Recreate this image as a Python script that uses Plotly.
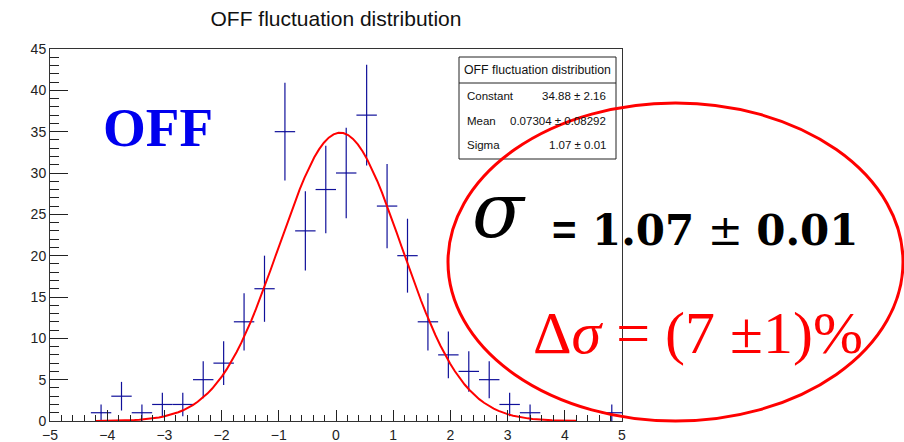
import numpy as np
import plotly.graph_objects as go

# Histogram: 28 bins over [-5, 5]
x_min, x_max, n_bins = -5.0, 5.0, 28
counts = [0, 0, 1, 3, 1, 2, 2, 5, 7, 12, 16, 35, 23, 28,
          30, 37, 26, 20, 12, 8, 6, 5, 2, 1, 0, 0, 0, 1]

# Gaussian fit parameters
fit_constant = 34.88
fit_mean = 0.07304
fit_sigma = 1.07
fit_range = [-4.2, 4.2]

stat_names = ["Constant", "Mean", "Sigma"]
stat_values = ["34.88 \u00b1 2.16", "0.07304 \u00b1 0.08292", "1.07 \u00b1 0.01"]

W, H = 904, 442
L, R, T, B = 50, 622, 49, 421


def px(xp):
    return (xp - L) / (R - L)


def py(yp):
    return (B - yp) / (B - T)


bin_w = (x_max - x_min) / n_bins
centers = x_min + bin_w * (np.arange(n_bins) + 0.5)
counts_arr = np.array(counts, dtype=float)
mask = counts_arr > 0

fig = go.Figure()

fig.add_trace(go.Scatter(
    x=centers[mask], y=counts_arr[mask], mode="markers",
    marker=dict(size=1, color="#10109a"),
    error_x=dict(type="constant", value=bin_w / 2, thickness=1.2, width=0, color="#10109a"),
    error_y=dict(type="data", array=np.sqrt(counts_arr[mask]), thickness=1.2, width=0, color="#10109a"),
    showlegend=False, hoverinfo="skip",
))

xf = np.linspace(fit_range[0], fit_range[1], 100)
yf = fit_constant * np.exp(-0.5 * ((xf - fit_mean) / fit_sigma) ** 2)
fig.add_trace(go.Scatter(
    x=xf, y=yf, mode="lines", line=dict(color="#ff0000", width=2),
    showlegend=False, hoverinfo="skip",
))

axis_font = dict(family="Liberation Sans, Arial, sans-serif", size=14, color="#222")

fig.update_xaxes(
    range=[x_min, x_max], dtick=1, tick0=0, showgrid=False, zeroline=False,
    showline=True, mirror=True, linecolor="#333", linewidth=1,
    ticks="inside", ticklen=11, tickwidth=1, tickcolor="#222",
    minor=dict(ticks="inside", ticklen=6, dtick=0.2, tickcolor="#222", tickwidth=1),
    tickfont=axis_font, automargin=False, ticklabelstandoff=1,
)
fig.update_yaxes(
    range=[0, 45], dtick=5, tick0=0, showgrid=False, zeroline=False,
    showline=True, mirror=True, linecolor="#333", linewidth=1,
    ticks="inside", ticklen=18, tickwidth=1, tickcolor="#222",
    minor=dict(ticks="inside", ticklen=9, dtick=1, tickcolor="#222", tickwidth=1),
    tickfont=axis_font, automargin=False,
)

shapes = [
    # statistics box
    dict(type="rect", xref="paper", yref="paper",
         x0=px(459), x1=px(616), y0=py(159), y1=py(57),
         line=dict(color="#222", width=1), fillcolor="white", layer="above"),
    dict(type="line", xref="paper", yref="paper",
         x0=px(459), x1=px(616), y0=py(83), y1=py(83),
         line=dict(color="#222", width=1), layer="above"),
    # highlight ellipse
    dict(type="circle", xref="paper", yref="paper",
         x0=px(448), x1=px(903), y0=py(421), y1=py(103),
         line=dict(color="#ff0000", width=3), layer="above"),
]

stat_font = dict(family="Liberation Sans, Arial, sans-serif", size=11.5, color="#111")
annotations = [
    dict(text="OFF fluctuation distribution", x=px(537.5), y=py(70),
         xanchor="center", yanchor="middle",
         font=dict(family="Liberation Sans, Arial, sans-serif", size=12.3, color="#111")),
]
for i, (name, val) in enumerate(zip(stat_names, stat_values)):
    yc = 96 + i * 24.7
    annotations.append(dict(text=name, x=px(465), y=py(yc), xanchor="left",
                            yanchor="middle", font=stat_font))
    annotations.append(dict(text=val, x=px(608), y=py(yc), xanchor="right",
                            yanchor="middle", font=stat_font))

annotations += [
    dict(text="<b>OFF</b>", x=px(157.5), y=py(127), xanchor="center", yanchor="middle",
         font=dict(family="Liberation Serif, Times New Roman, serif", size=55, color="#0000ee")),
    dict(text="<i>\u03c3</i>", x=px(499), y=py(211), xanchor="center", yanchor="middle",
         font=dict(family="DejaVu Serif, serif", size=76, color="black")),
    dict(text="<b>=</b>", x=px(564), y=py(230), xanchor="center", yanchor="middle",
         font=dict(family="Liberation Sans, Arial, sans-serif", size=42, color="black")),
    dict(text="<b>1.07</b> \u00b1 <b>0.01</b>", x=px(590), y=py(230.5), xanchor="left",
         yanchor="middle",
         font=dict(family="DejaVu Serif, serif", size=42, color="black")),
    dict(text="\u0394<i>\u03c3</i> = (7 \u00b11)%", x=px(531), y=py(333), xanchor="left",
         yanchor="middle",
         font=dict(family="Liberation Serif, Times New Roman, serif", size=60, color="#ff0000")),
]
for a in annotations:
    a.update(xref="paper", yref="paper", showarrow=False)

fig.update_layout(
    width=W, height=H,
    margin=dict(l=L, r=W - R, t=T, b=H - B, pad=0),
    paper_bgcolor="white", plot_bgcolor="white",
    title=dict(text="OFF fluctuation distribution", x=0.5, xref="paper",
               y=1 - 19 / H, yanchor="middle",
               font=dict(family="Liberation Sans, Arial, sans-serif", size=21, color="#111")),
    shapes=shapes, annotations=annotations, showlegend=False,
)

fig.write_html("out.html")
